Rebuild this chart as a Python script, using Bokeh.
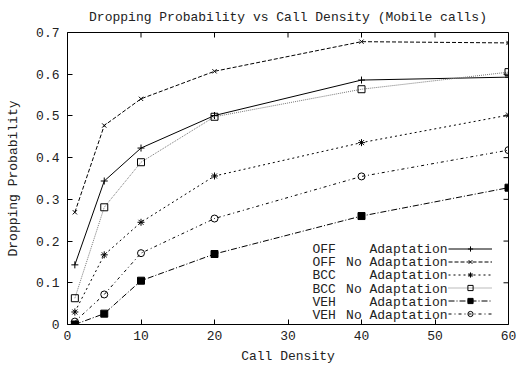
import math
from bokeh.plotting import figure
from bokeh.models import (Range1d, FixedTicker, LinearAxis, Legend, LegendItem,
                          Label)
from bokeh.embed import file_html
from bokeh.resources import INLINE

# ---- data ----
call_density = [1, 5, 10, 20, 40, 60]
off_adapt    = [0.143, 0.344, 0.423, 0.501, 0.586, 0.593]
off_noadapt  = [0.269, 0.477, 0.541, 0.607, 0.678, 0.675]
bcc_adapt    = [0.030, 0.167, 0.245, 0.356, 0.436, 0.502]
bcc_noadapt  = [0.063, 0.281, 0.389, 0.498, 0.564, 0.605]
veh_adapt    = [0.000, 0.026, 0.105, 0.169, 0.260, 0.328]
veh_noadapt  = [0.007, 0.072, 0.171, 0.254, 0.355, 0.418]

series_prefix = ["OFF", "OFF", "BCC", "BCC", "VEH", "VEH"]
series_suffix = ["Adaptation", "No Adaptation", "Adaptation", "No Adaptation",
                 "Adaptation", "No Adaptation"]
x_ticks = [0, 10, 20, 30, 40, 50, 60]
y_ticks = [0, 0.1, 0.2, 0.3, 0.4, 0.5, 0.6, 0.7]
title_text = "Dropping Probability vs Call Density (Mobile calls)"

FONT = "Liberation Mono"
FS = "13px"
TXT = "#222222"

W, H = 519, 367
L, R, T, B = 67, 11, 32, 43

p = figure(width=W, height=H, output_backend="svg", toolbar_location=None,
           title=title_text,
           x_range=Range1d(0, 60), y_range=Range1d(0, 0.7),
           min_border_left=L, min_border_right=R, min_border_top=T,
           min_border_bottom=B, x_axis_location=None, y_axis_location=None)
p.background_fill_color = "white"
p.border_fill_color = "white"
p.outline_line_color = "black"
p.outline_line_width = 1
p.grid.visible = False

p.title.text_font = FONT
p.title.text_font_size = FS
p.title.text_font_style = "normal"
p.title.text_color = TXT
p.title.align = "center"
p.title.standoff = 15

def style_axis(ax):
    ax.axis_line_color = None
    ax.major_tick_in = 5
    ax.major_tick_out = 0
    ax.minor_tick_line_color = None
    ax.major_tick_line_color = "black"
    ax.major_label_text_font = FONT
    ax.major_label_text_font_size = FS
    ax.major_label_text_color = TXT
    ax.axis_label_text_font = FONT
    ax.axis_label_text_font_size = FS
    ax.axis_label_text_font_style = "normal"
    ax.axis_label_text_color = TXT

xb = LinearAxis(ticker=FixedTicker(ticks=x_ticks), axis_label="Call Density")
style_axis(xb)
xb.major_label_standoff = 6
xb.axis_label_standoff = 6
p.add_layout(xb, "below")
yl = LinearAxis(ticker=FixedTicker(ticks=y_ticks), axis_label="Dropping Probability")
style_axis(yl)
yl.major_label_overrides = {0: "0"}
yl.major_label_standoff = 8
yl.axis_label_standoff = 12
p.add_layout(yl, "left")

# mirrored ticks on top and right edges (half of each dash is clipped outside)
p.scatter(x_ticks, [0.7] * len(x_ticks), marker="dash", angle=math.pi / 2,
          size=10, line_color="black", line_width=1)
p.scatter([60] * len(y_ticks), y_ticks, marker="dash", size=10,
          line_color="black", line_width=1)

specs = [
    (off_adapt,   "black",   None,    "solid",   "cross",    7),
    (off_noadapt, "black",   None,    "4 2",     "x",        6),
    (bcc_adapt,   "black",   "black", "2 3",     "asterisk", 7),
    (bcc_noadapt, "#777777", None,    "1 1",     "square",   7),
    (veh_adapt,   "black",   "black", "6 2 1 2", "square",   7),
    (veh_noadapt, "black",   None,    "3 3 1 3", "circle",   7),
]

items = []
for ys, lc, fc, dash, mk, ms in specs:
    r1 = p.line(call_density, ys, line_color=lc, line_width=1, line_dash=dash)
    r2 = p.scatter(call_density, ys, marker=mk, size=ms, line_color="black",
                   fill_color=fc, line_width=1)
    items.append(LegendItem(label=" ", renderers=[r1, r2]))

legend = Legend(items=items, location=(381, 4), glyph_width=44, glyph_height=13,
                label_height=13, label_width=1, label_standoff=0, spacing=0,
                padding=0, margin=0, border_line_color=None,
                background_fill_alpha=0, label_text_font_size="1px")
p.add_layout(legend, "center")

# legend text (left part aligned left, right part aligned right)
row_h = 13.2
top_row = 75
for i, (pre, suf) in enumerate(zip(series_prefix, series_suffix)):
    yy = top_row - i * row_h
    p.add_layout(Label(x=312 - L, y=yy, x_units="screen", y_units="screen",
                       text=pre, text_font=FONT, text_font_size=FS,
                       text_color=TXT, text_baseline="middle", text_align="left"))
    p.add_layout(Label(x=447 - L, y=yy, x_units="screen", y_units="screen",
                       text=suf, text_font=FONT, text_font_size=FS,
                       text_color=TXT, text_baseline="middle", text_align="right"))

open("out.html", "w").write(file_html(p, INLINE))
